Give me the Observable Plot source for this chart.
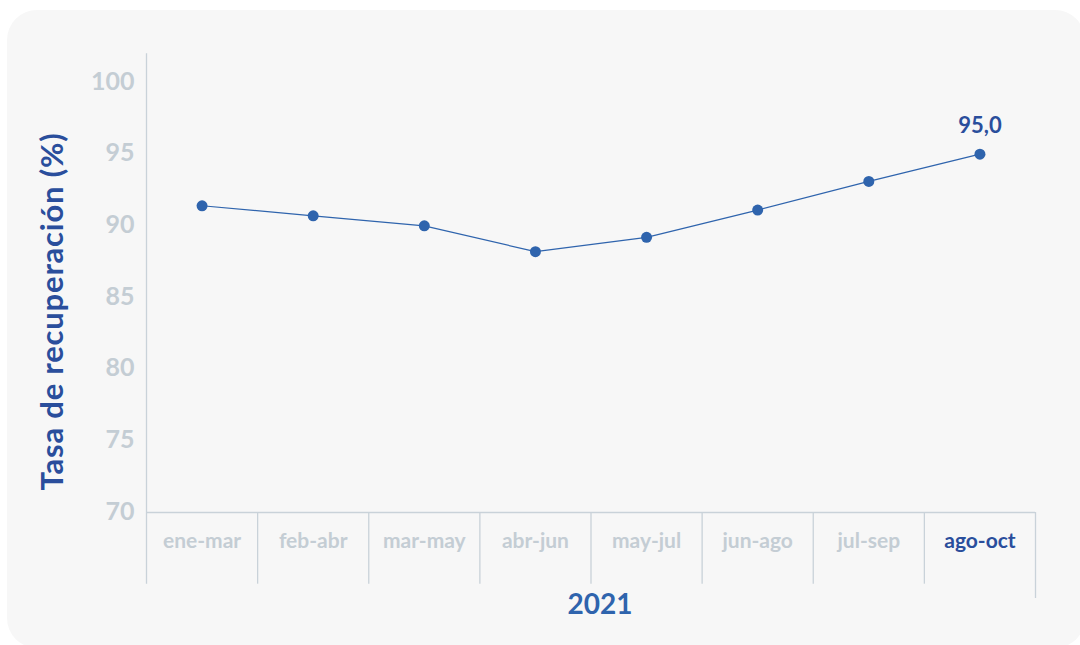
<!DOCTYPE html>
<html><head><meta charset="utf-8">
<script src="https://cdn.jsdelivr.net/npm/d3@7"></script>
<script src="https://cdn.jsdelivr.net/npm/@observablehq/plot@0.6"></script>
<style>
body{margin:0;background:#fff;}
#wrap{position:relative;width:1080px;height:645px;overflow:hidden;}
#panel{position:absolute;left:7px;top:10px;width:1078px;height:638px;background:#f7f7f7;border-radius:30px;}
#chart{position:absolute;left:0;top:0;}
</style></head><body>
<div id="wrap"><div id="panel"></div><div id="chart"></div></div>
<script>
const periods = ["ene-mar", "feb-abr", "mar-may", "abr-jun", "may-jul", "jun-ago", "jul-sep", "ago-oct"];
const rates = [91.4, 90.7, 90.0, 88.2, 89.2, 91.1, 93.1, 95.0];
const yTicks = [70, 75, 80, 85, 90, 95, 100];
const year = "2021";
const yTitle = "Tasa de recuperación (%)";

const data = periods.map((p, i) => ({i, period: p, rate: rates[i]}));
const last = periods.length - 1;
const bounds = d3.range(periods.length + 1).map(k => k - 0.5);

const gray = "#c4cdd4";
const lineGray = "#c9d2d9";
const blue = "#2f64ad";
const darkBlue = "#2a4e9c";
const font = "Lato, 'Open Sans', sans-serif";

const chart = Plot.plot({
  width: 1080,
  height: 645,
  marginLeft: 146,
  marginRight: 45,
  marginTop: 82,
  marginBottom: 133,
  style: {background: "transparent", fontFamily: font},
  x: {type: "linear", domain: [-0.5, last + 0.5], axis: null},
  y: {domain: [70, 100], axis: null},
  marks: [
    Plot.ruleY([70], {stroke: lineGray, strokeWidth: 1.3}),
    Plot.ruleX(bounds, {
      x: d => d,
      y1: d => (d === bounds[bounds.length - 1] ? 64 : 65),
      y2: d => (d === bounds[0] ? 102 : 70),
      stroke: lineGray, strokeWidth: 1.3
    }),
    Plot.line(data, {x: "i", y: "rate", stroke: blue, strokeWidth: 1.2}),
    Plot.dot(data, {x: "i", y: "rate", r: 5.5, fill: blue, stroke: null}),
    Plot.text([data[last]], {
      x: "i", y: "rate",
      text: d => d.rate.toFixed(1).replace(".", ","),
      dy: -28, fill: darkBlue, fontSize: 22, fontWeight: "bold"
    }),
    Plot.text(data, {
      x: "i", y: () => 70, text: "period", dy: 29,
      fill: d => (d.i === last ? darkBlue : gray),
      fontSize: 21, fontWeight: "bold"
    }),
    Plot.text(yTicks, {
      frameAnchor: "left", y: d => d, text: d => String(d),
      dx: -12, dy: -1, textAnchor: "end", fill: gray, fontSize: 25, fontWeight: "bold"
    }),
    Plot.text([yTitle], {
      frameAnchor: "left", text: d => d, rotate: -90, textAnchor: "middle",
      dx: -93, dy: 14, fill: darkBlue, fontSize: 31, fontWeight: "bold"
    }),
    Plot.text([year], {
      frameAnchor: "bottom", text: d => d, dx: 9, dy: 101,
      fill: blue, fontSize: 28, fontWeight: "bold"
    })
  ]
});
document.getElementById("chart").appendChild(chart);
d3.select(chart).selectAll("text").filter(function() { return this.textContent === yTitle; })
  .style("letter-spacing", "0.8px");
</script>
</body></html>
